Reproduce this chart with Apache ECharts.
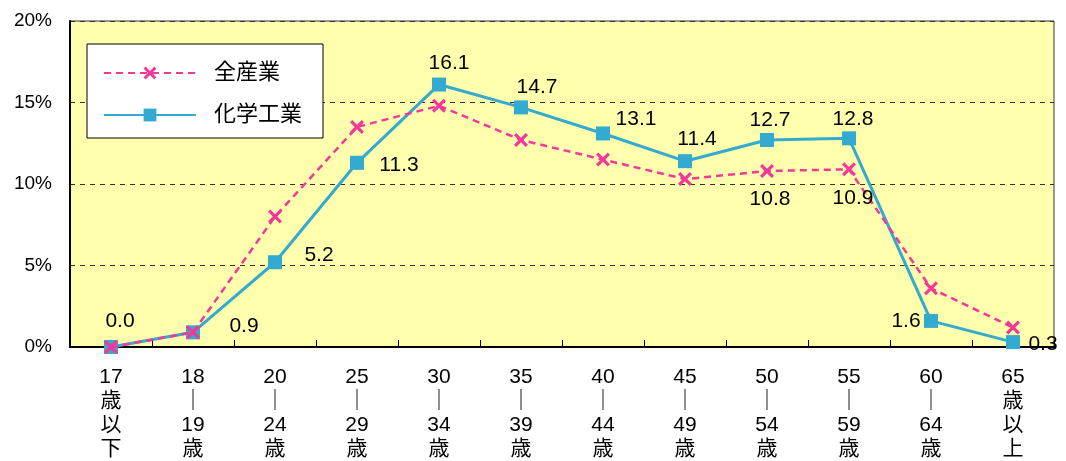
<!DOCTYPE html>
<html>
<head>
<meta charset="utf-8">
<script src="https://cdn.jsdelivr.net/npm/echarts@6/dist/echarts.min.js"></script>
<style>
  html, body { margin: 0; padding: 0; background: #ffffff; }
  #chart { width: 1066px; height: 461px; }
</style>
</head>
<body>
<div id="chart"></div>
<script>
// Age groups (stacked vertically under the axis)
const categories = [
  '17\n歳\n以\n下', '18\n｜\n19\n歳', '20\n｜\n24\n歳', '25\n｜\n29\n歳',
  '30\n｜\n34\n歳', '35\n｜\n39\n歳', '40\n｜\n44\n歳', '45\n｜\n49\n歳',
  '50\n｜\n54\n歳', '55\n｜\n59\n歳', '60\n｜\n64\n歳', '65\n歳\n以\n上'
];
// Share of workers by age group (%)
const allIndustry = [0.0, 0.9, 8.0, 13.5, 14.8, 12.7, 11.5, 10.3, 10.8, 10.9, 3.6, 1.2];
const chemical    = [0.0, 0.9, 5.2, 11.3, 16.1, 14.7, 13.1, 11.4, 12.7, 12.8, 1.6, 0.3];
// Indices of 全産業 points that carry a value label
const allIndustryLabelled = [8, 9];
// Y axis scale
const yMin = 0, yMax = 20, yStep = 5;

const FONT = '"Liberation Sans", Arial, "Noto Sans CJK JP", sans-serif';
const PINK = '#F5379A';
const BLUE = '#33AACF';

// label placement around each 化学工業 marker
const chemLabelOffsets = [
  [9, -26], [51, -6], [44, -7], [42, 2], [10, -21], [16, -20],
  [33, -14], [12, -22], [3, -20], [4, -19], [-25, 0], [30, 2]
];
const allLabelOffsets = { 8: [3, 28], 9: [4, 29] };

const crossPath = 'path://M0,1.6L1.6,0L5,3.4L8.4,0L10,1.6L6.6,5L10,8.4L8.4,10L5,6.6L1.6,10L0,8.4L3.4,5Z';

const labelStyle = {
  show: true,
  position: 'inside',
  color: '#000',
  fontSize: 21,
  fontFamily: FONT,
  formatter: p => p.value.toFixed(1)
};

const chemData = chemical.map((v, i) => ({
  value: v,
  label: Object.assign({}, labelStyle, { offset: chemLabelOffsets[i] })
}));
const allData = allIndustry.map((v, i) => {
  if (allIndustryLabelled.indexOf(i) >= 0) {
    return { value: v, label: Object.assign({}, labelStyle, { offset: allLabelOffsets[i] }) };
  }
  return { value: v };
});

const chart = echarts.init(document.getElementById('chart'), null, { renderer: 'canvas' });
chart.setOption({
  animation: false,
  backgroundColor: '#ffffff',
  textStyle: { fontFamily: FONT },
  grid: {
    left: 70, right: 12, top: 21, bottom: 114,
    show: true,
    backgroundColor: '#FFFFAE',
    borderColor: '#333333',
    borderWidth: 1
  },
  legend: {
    data: ['全産業', '化学工業'],
    orient: 'vertical',
    left: 87, top: 44,
    padding: [18, 21, 12, 16],
    itemGap: 20,
    itemWidth: 92,
    itemHeight: 16,
    backgroundColor: '#ffffff',
    borderColor: '#000000',
    borderWidth: 1,
    borderRadius: 0,
    textStyle: { fontSize: 22, color: '#000', fontFamily: FONT, padding: [0, 0, 0, 13] }
  },
  xAxis: {
    type: 'category',
    data: categories,
    boundaryGap: true,
    axisLine: { show: true, lineStyle: { color: '#000', width: 2 } },
    axisTick: { show: true, inside: true, length: 7, lineStyle: { color: '#000', width: 1 } },
    axisLabel: {
      color: '#000', fontSize: 21, lineHeight: 24, margin: 18,
      fontFamily: FONT, interval: 0
    },
    splitLine: { show: false }
  },
  yAxis: {
    type: 'value',
    min: yMin, max: yMax, interval: yStep,
    axisLine: { show: true, lineStyle: { color: '#000', width: 2 } },
    axisTick: { show: false },
    axisLabel: {
      color: '#000', fontSize: 19, margin: 18, fontFamily: FONT,
      formatter: '{value}%'
    },
    splitLine: { show: true, lineStyle: { color: '#333', type: [5, 5], width: 1 } }
  },
  series: [
    {
      name: '化学工業',
      type: 'line',
      data: chemData,
      symbol: 'rect',
      symbolSize: 14,
      itemStyle: { color: BLUE },
      lineStyle: { color: BLUE, width: 3 },
      z: 2
    },
    {
      name: '全産業',
      type: 'line',
      data: allData,
      symbol: crossPath,
      symbolSize: 14,
      itemStyle: { color: PINK },
      lineStyle: { color: PINK, width: 2.5, type: [7, 5] },
      z: 3
    }
  ]
});
</script>
</body>
</html>
